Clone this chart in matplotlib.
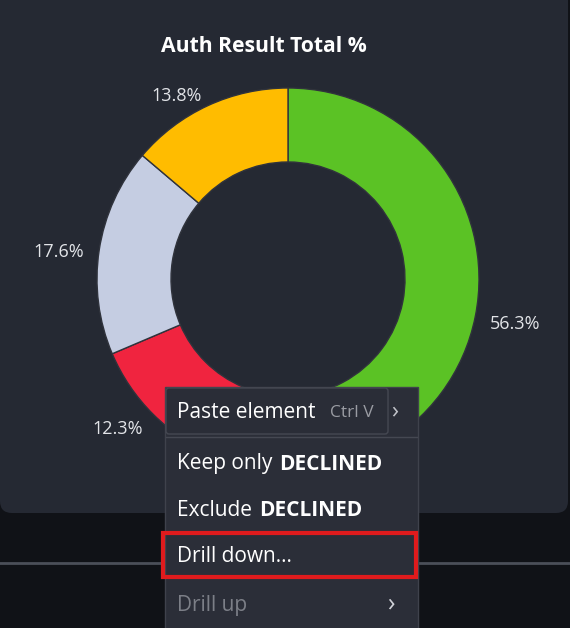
import matplotlib
matplotlib.use("Agg")
import matplotlib.pyplot as plt
from matplotlib.patches import FancyBboxPatch, Rectangle

plt.rcParams['font.family'] = ['Open Sans', 'DejaVu Sans']

W, H = 570, 628

title = "Auth Result Total %"
categories = ["APPROVED", "DECLINED", "OTHER", "PENDING"]
shares = [56.3, 12.3, 17.6, 13.8]
colors = ["#5bc225", "#f0243f", "#c5cde2", "#ffbc00"]

menu_items = ["Keep only ", "Exclude ", "Drill down...", "Drill up"]
menu_bold = ["DECLINED", "DECLINED", "", ""]

fig = plt.figure(figsize=(W / 100, H / 100), dpi=100)
fig.patch.set_facecolor("#101217")
ax = fig.add_axes([0, 0, 1, 1])
ax.set_facecolor("#101217")


def py(y):
    # screen y (top-down) to axes y, small nudge for text centring
    return H - y


# card
card = FancyBboxPatch((0, py(513)), 568, 540, boxstyle="round,pad=0,rounding_size=12",
                      fc="#252933", ec="none", zorder=1)
ax.add_patch(card)
ax.plot([0, W], [py(563), py(563)], color="#4b4f59", lw=2, zorder=1)

ax.text(264, py(46), title, color="white", fontsize=15.2, fontweight="bold",
        ha="center", va="center", zorder=3)

# donut
cx, cy = 288, py(279)
labels = [f"{s}%" for s in shares]
wedges, texts = ax.pie(
    shares, labels=labels, colors=colors, startangle=90, counterclock=False,
    radius=191, center=(cx, cy), labeldistance=1.08,
    wedgeprops=dict(width=74, edgecolor="#30333c", linewidth=1),
    textprops=dict(color="#e2e4e8", fontsize=13))
for w in wedges:
    w.set_zorder(2)
for t in texts:
    t.set_zorder(3)
    x, y = t.get_position()
    t.set_ha("left" if x > cx else "right")
    t.set_position((x, y - 4))

# context menu
ax.add_patch(Rectangle((165, py(640)), 253, 253, fc="#2b2e38", ec="#3f424c", lw=1, zorder=4))
ax.add_patch(FancyBboxPatch((166, py(434)), 222, 46, boxstyle="round,pad=0,rounding_size=3",
                            fc="#2a2d37", ec="#454852", lw=1, zorder=5))
ax.plot([166, 417], [py(437), py(437)], color="#454852", lw=1, zorder=5)
ax.text(177, py(413), "Paste element", color="white", fontsize=15, va="center", zorder=6)
ax.text(330, py(413), "Ctrl V", color="#9a9ca3", fontsize=12.5, va="center", zorder=6)
ax.text(391, py(411), "›", color="#c0c2c8", fontsize=17, va="center", zorder=6)

ys = [464, 510, 557, 606]
bold_x = [279, 259]
for i, (txt, y) in enumerate(zip(menu_items, ys)):
    c = "#7c7f87" if txt == "Drill up" else "white"
    ax.text(177, py(y), txt, color=c, fontsize=15, va="center", zorder=6)
    if menu_bold[i]:
        ax.text(bold_x[i], py(y), menu_bold[i], color="white", fontsize=15,
                fontweight="bold", va="center", zorder=6)
ax.text(387, py(604), "›", color="#d0d2d8", fontsize=18, va="center", zorder=6)

ax.add_patch(Rectangle((162.5, py(576.5)), 253, 44, fc="none", ec="#e01b1d", lw=3, zorder=7))

ax.set_xlim(0, W)
ax.set_ylim(0, H)
ax.set_aspect("auto")
ax.axis("off")

fig.savefig("out.png", dpi=100, facecolor=fig.get_facecolor())
